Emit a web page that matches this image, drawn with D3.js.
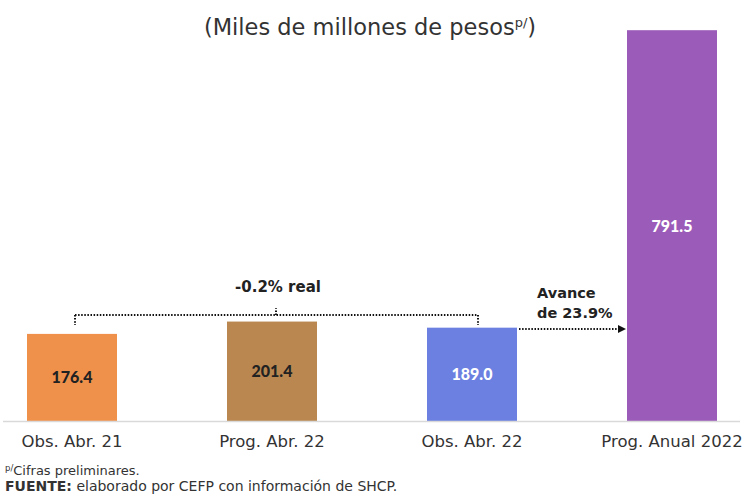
<!DOCTYPE html>
<html><head><meta charset="utf-8">
<script src="https://cdn.jsdelivr.net/npm/d3@7"></script>
<style>body{margin:0;background:#fff}svg{display:block}</style>
</head><body>
<svg id="c" width="744" height="494"></svg>
<script>
const categories = ["Obs. Abr. 21", "Prog. Abr. 22", "Obs. Abr. 22", "Prog. Anual 2022"];
const values = [176.4, 201.4, 189.0, 791.5];
const valueLabels = ["176.4", "201.4", "189.0", "791.5"];
const colors = ["#F0914B", "#BA8750", "#6B80E0", "#9B5BB8"];
const labelColors = ["#222", "#222", "#fff", "#fff"];

const svg = d3.select("#c");
const font = "'DejaVu Sans', sans-serif";
const boldNum = "'Lato', 'DejaVu Sans', sans-serif";
const x = d3.scaleBand().domain(categories).range([27, 717]).paddingInner(0.55).paddingOuter(0);
const y = d3.scaleLinear().domain([0, 800]).range([421, 26]);

// title
const t = svg.append("text").attr("x", 370).attr("y", 35).attr("text-anchor", "middle")
  .attr("font-family", font).attr("font-size", 22.5).attr("fill", "#333");
t.append("tspan").text("(Miles de millones de pesos");
t.append("tspan").attr("font-size", 13).attr("dy", -8).text("p/");
t.append("tspan").attr("dy", 8).text(")");

// bars
svg.selectAll("rect.bar").data(values).join("rect").attr("class", "bar")
  .attr("x", (d, i) => x(categories[i])).attr("width", x.bandwidth())
  .attr("y", d => y(d)).attr("height", d => y(0) - y(d))
  .attr("fill", (d, i) => colors[i]);

// axis baseline
svg.append("line").attr("x1", 3).attr("x2", 740).attr("y1", y(0) + 0.5).attr("y2", y(0) + 0.5)
  .attr("stroke", "#d9d9d9").attr("stroke-width", 1.5);

// value labels
svg.selectAll("text.val").data(values).join("text").attr("class", "val")
  .attr("x", (d, i) => x(categories[i]) + x.bandwidth() / 2)
  .attr("y", d => (y(d) + y(0)) / 2 + 6)
  .attr("text-anchor", "middle").attr("font-family", boldNum).attr("font-weight", "900")
  .attr("font-size", 16).attr("fill", (d, i) => labelColors[i])
  .text((d, i) => valueLabels[i]);

// category labels
svg.selectAll("text.cat").data(categories).join("text").attr("class", "cat")
  .attr("x", d => x(d) + x.bandwidth() / 2).attr("y", 447)
  .attr("text-anchor", "middle").attr("font-family", font).attr("font-size", 16.5).attr("fill", "#333")
  .text(d => d);

// bracket
const cx = i => x(categories[i]) + x.bandwidth() / 2;
const by = 315;
const dot = {stroke: "#111", "stroke-width": 2, "stroke-dasharray": "1.5 1.6"};
function dl(x1, y1, x2, y2) {
  const l = svg.append("line").attr("x1", x1).attr("y1", y1).attr("x2", x2).attr("y2", y2);
  Object.entries(dot).forEach(([k, v]) => l.attr(k, v));
  return l;
}
dl(cx(0) + 3, by, cx(2) + 6, by);
dl(cx(0) + 3, by, cx(0) + 3, by + 10);
dl(cx(2) + 6, by, cx(2) + 6, by + 10);
dl(cx(1) + 4, by, cx(1) + 4, by - 7);
svg.append("text").attr("x", cx(1) + 6).attr("y", 292).attr("text-anchor", "middle")
  .attr("font-family", font).attr("font-weight", "bold").attr("font-size", 15).attr("fill", "#222")
  .text("-0.2% real");

// arrow
dl(x(categories[2]) + x.bandwidth() + 2, 329, x(categories[3]) - 8, 329);
svg.append("path")
  .attr("d", `M${x(categories[3]) - 1},329 L${x(categories[3]) - 9},325 L${x(categories[3]) - 9},333 Z`)
  .attr("fill", "#111");
const av = svg.append("text").attr("font-family", font).attr("font-weight", "bold")
  .attr("font-size", 14.5).attr("fill", "#222");
av.append("tspan").attr("x", 537).attr("y", 298).text("Avance");
av.append("tspan").attr("x", 537).attr("y", 318).text("de 23.9%");

// footnotes
const f1 = svg.append("text").attr("x", 5).attr("y", 475).attr("font-family", font)
  .attr("font-size", 13).attr("fill", "#333");
f1.append("tspan").attr("font-size", 8.5).attr("dy", -4).text("p/");
f1.append("tspan").attr("dy", 4).text("Cifras preliminares.");
const f2 = svg.append("text").attr("x", 5).attr("y", 491).attr("font-family", font)
  .attr("font-size", 14).attr("fill", "#333");
f2.append("tspan").attr("font-weight", "bold").text("FUENTE:");
f2.append("tspan").text(" elaborado por CEFP con información de SHCP.");
</script>
</body></html>
